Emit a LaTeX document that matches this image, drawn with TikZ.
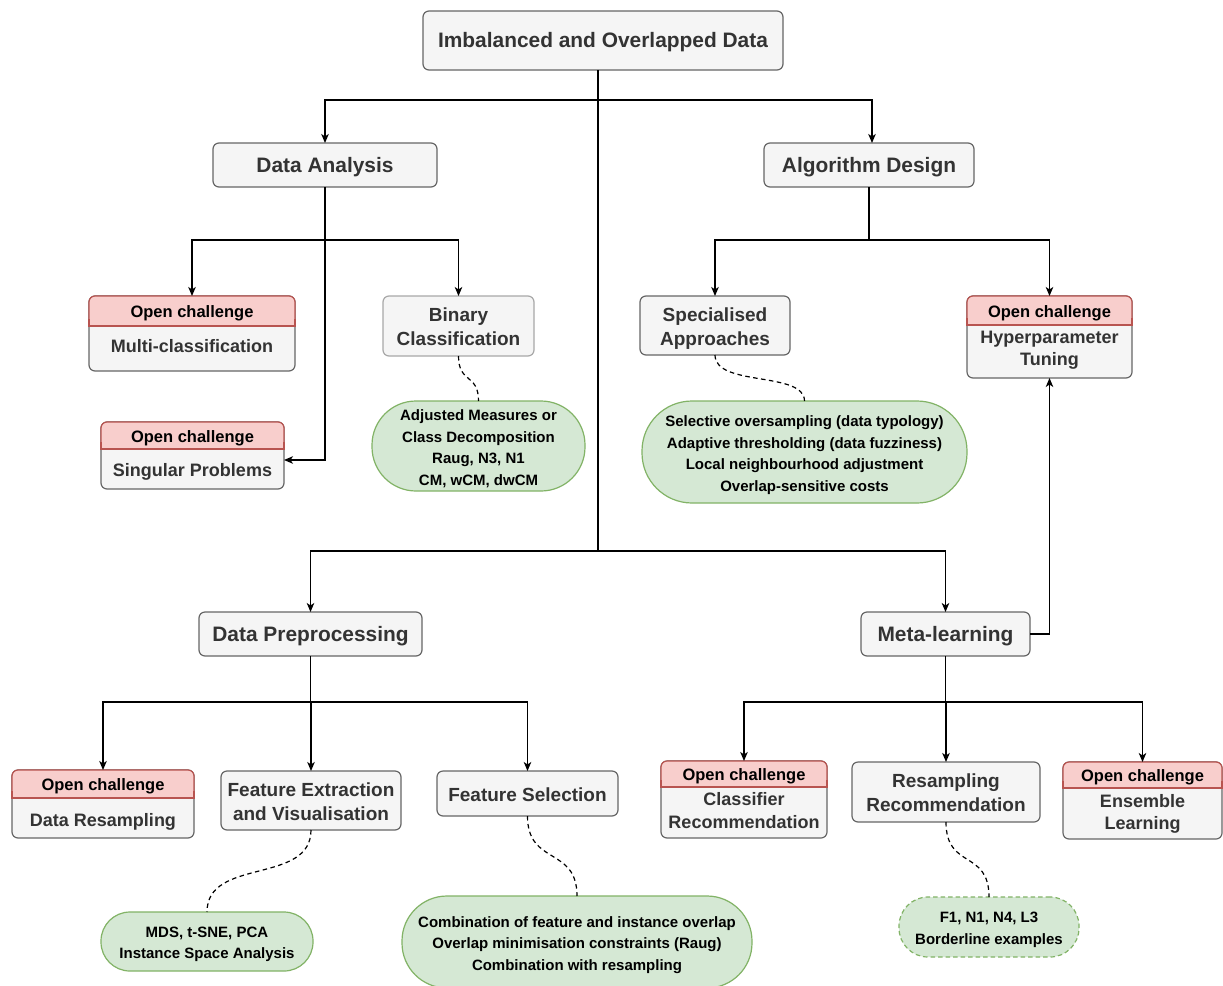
\documentclass[tikz,border=0pt]{standalone}
\usepackage{fontspec}
\setmainfont{Liberation Sans}
\usetikzlibrary{arrows.meta,calc}

\definecolor{boxfill}{HTML}{F5F5F5}
\definecolor{boxline}{HTML}{666666}
\definecolor{softline}{HTML}{A8A8A8}
\definecolor{boxtext}{HTML}{333333}
\definecolor{leaffill}{HTML}{D5E8D4}
\definecolor{leafline}{HTML}{82B366}
\definecolor{hotfill}{HTML}{F8CECC}
\definecolor{hotline}{HTML}{B85450}

\tikzset{
  base/.style={inner sep=0pt, outer sep=0pt, align=center, line width=1.2pt},
  greybox/.style={base, draw=boxline, fill=boxfill, rounded corners=6pt},
  headbox/.style={base, draw=hotline, fill=hotfill, rounded corners=6pt},
  leaf/.style={base, draw=leafline, fill=leaffill, rounded corners=#1},
  toptext/.style={base, text=boxtext, font=\fontsize{20.9}{25}\selectfont\bfseries, yshift=-2pt},
  midtext/.style={base, text=boxtext, font=\fontsize{19}{24}\selectfont\bfseries, yshift=-1pt},
  bodytext/.style={base, text=boxtext, font=\fontsize{18}{22.5}\selectfont\bfseries},
  headtext/.style={base, text=black, font=\fontsize{16.5}{20}\selectfont\bfseries, yshift=-2.5pt},
  leaftext/.style={base, text=black, font=\fontsize{15}{21.5}\selectfont\bfseries, yshift=-3pt},
  link/.style={line width=1.3pt, draw=black},
  arrow/.style={link, -{Stealth[length=9pt,width=7.5pt,inset=2.5pt]}},
  note/.style={line width=1.2pt, dash pattern=on 4.5pt off 3.5pt},
}

% A box and its caption: #1 box options, #2 name, #3 centre, #4 caption options, #5 caption
\newcommand\tnode[5]{%
  \node[#1] (#2) at (#3) {};
  \node[#4] (#2-t) at (#2.center) {#5};
}

% Box with a pink "Open challenge" header strip and a grey body:
% #1 name, #2 centre x, #3 top y, #4 width, #5 header height, #6 total height,
% #7 body text, #8 y of the body text
\newcommand\openbox[8]{%
  \node[greybox, anchor=north, minimum width=#4pt, minimum height=#6pt] (#1) at (#2,#3) {};
  \node[headbox, anchor=north, minimum width=#4pt, minimum height=#5pt] (#1-h) at (#1.north) {};
  \fill[hotfill] ([shift={(0.6pt,0pt)}]#1-h.south west) rectangle ([shift={(-0.6pt,7pt)}]#1-h.south east);
  \draw[hotline, line width=1.2pt] ([yshift=7pt]#1-h.south west) -- (#1-h.south west)
    -- (#1-h.south east) -- ([yshift=7pt]#1-h.south east);
  \node[headtext] (#1-ht) at (#1-h.center) {Open challenge};
  \node[bodytext] (#1-t) at (#2,#8) {#7};
}

\begin{document}
\begin{tikzpicture}[x=1pt,y=-1pt]
\fill[white] (0,0) rectangle (1223,985);
\useasboundingbox (0,0) rectangle (1223,985);

% top levels
\tnode{greybox, minimum width=360pt, minimum height=59pt}{root}{603,40.5}{toptext}{Imbalanced and Overlapped Data}
\tnode{greybox, minimum width=224pt, minimum height=44pt}{da}{325,165}{toptext}{Data Analysis}
\tnode{greybox, minimum width=210pt, minimum height=44pt}{ad}{869,165}{toptext}{Algorithm Design}
\tnode{greybox, minimum width=223pt, minimum height=44pt}{dp}{310.5,634}{toptext}{Data Preprocessing}
\tnode{greybox, minimum width=169pt, minimum height=44pt}{ml}{945.5,634}{toptext}{Meta-learning}

% plain sub-topics
\tnode{greybox, draw=softline, minimum width=151pt, minimum height=60pt}{bin}{458.5,326}{midtext}{Binary\\Classification}
\tnode{greybox, minimum width=150pt, minimum height=59pt}{spec}{715,325.5}{midtext, yshift=-2pt}{Specialised\\Approaches}
\tnode{greybox, minimum width=180pt, minimum height=59pt}{fe}{311,800.5}{midtext}{Feature Extraction\\and Visualisation}
\tnode{greybox, minimum width=181pt, minimum height=45pt}{fs}{527.5,793.5}{midtext}{Feature Selection}
\tnode{greybox, minimum width=188pt, minimum height=60pt}{rr}{946,792}{midtext}{Resampling\\Recommendation}

% open challenges
\openbox{multi}{192}{296}{206}{30}{75}{Multi-classification}{346.5}
\openbox{sing}{192.5}{422}{183}{27}{67}{Singular Problems}{472}
\openbox{hyper}{1049.5}{296}{165}{29}{82}{Hyperparameter\\Tuning}{350}
\openbox{dres}{103}{770}{182}{28}{68}{Data Resampling}{821.5}
\openbox{cls}{744}{761}{166}{26}{77}{Classifier\\Recommendation}{810.5}
\openbox{ens}{1142.5}{762}{159}{26}{77}{Ensemble\\Learning}{814}

% green notes
\tnode{leaf=44pt, minimum width=213pt, minimum height=90pt}{gA}{478.5,446}{leaftext, yshift=0.5pt}
  {Adjusted Measures or\\Class Decomposition\\Raug, N3, N1\\CM, wCM, dwCM}
\tnode{leaf=50pt, minimum width=325pt, minimum height=102pt}{gS}{804.5,452}{leaftext}
  {Selective oversampling (data typology)\\Adaptive thresholding (data fuzziness)\\Local neighbourhood adjustment\\Overlap-sensitive costs}
\tnode{leaf=29pt, minimum width=212pt, minimum height=59pt}{gM}{207,941.5}{leaftext}
  {MDS, t-SNE, PCA\\Instance Space Analysis}
\tnode{leaf=45pt, minimum width=350pt, minimum height=92pt}{gC}{577,942}{leaftext}
  {Combination of feature and instance overlap\\Overlap minimisation constraints (Raug)\\Combination with resampling}
\tnode{leaf=29pt, dash pattern=on 4.5pt off 3pt, minimum width=180pt, minimum height=60pt}{gF}{989,927}{leaftext}
  {F1, N1, N4, L3\\Borderline examples}

% spine from the root
\coordinate (sp) at (598,100);
\coordinate (sp2) at (598,551);
\draw[link] (root.south -| sp) -- (sp2);
\draw[arrow] (sp) -| (da.north);
\draw[arrow] (sp) -| ([xshift=3pt]ad.north);
\draw[arrow] (sp2) -| (dp.north);
\draw[arrow] (sp2) -| (ml.north);

% data analysis branch
\coordinate (daj) at (325,240);
\draw[arrow] (da.south) |- ([yshift=-4.5pt]sing.east);
\draw[arrow] (daj) -| (multi.north);
\draw[arrow] (daj) -| (bin.north);

% algorithm design branch
\coordinate (adj) at (869,240);
\draw[link] (ad.south) -- (adj);
\draw[arrow] (adj) -| (spec.north);
\draw[arrow] (adj) -| (hyper.north);
\draw[arrow] (ml.east) -| (hyper.south);

% data preprocessing branch
\coordinate (dpj) at (310.5,702);
\draw[link] (dp.south) -- (dpj);
\draw[arrow] (dpj) -| (dres.north);
\draw[arrow] (dpj) -| (fe.north);
\draw[arrow] (dpj) -| (fs.north);

% meta-learning branch
\coordinate (mlj) at (945.5,702);
\draw[link] (ml.south) -- (mlj);
\draw[arrow] (mlj) -| (cls.north);
\draw[arrow] (mlj) -| (rr.north);
\draw[arrow] (mlj) -| (ens.north);

% dashed notes
\draw[note] (bin.south) .. controls +(0,28) and +(0,-28) .. (gA.north);
\draw[note] (spec.south) .. controls +(0,32) and +(0,-30) .. (gS.north);
\draw[note] (fe.south) .. controls +(0,55) and +(0,-55) .. (gM.north);
\draw[note] (fs.south) .. controls +(0,50) and +(0,-50) .. (gC.north);
\draw[note] (rr.south) .. controls +(0,48) and +(0,-48) .. (gF.north);
\end{tikzpicture}
\end{document}
